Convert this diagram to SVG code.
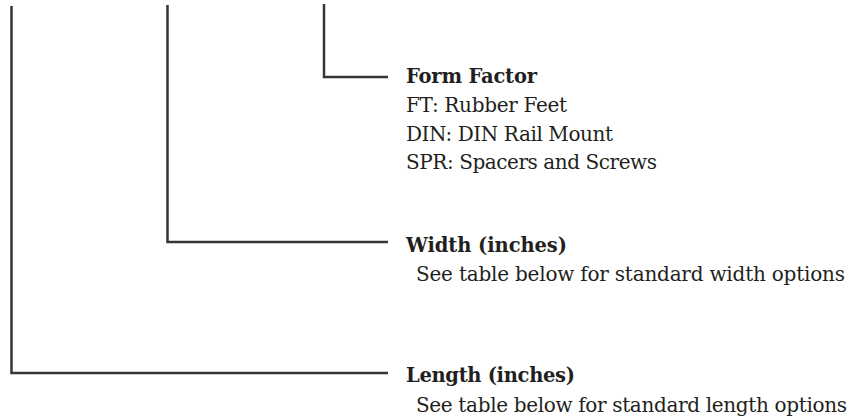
<svg xmlns="http://www.w3.org/2000/svg" width="867" height="417" viewBox="0 0 867 417">
<style>
.ln{fill:none;stroke:#353535;stroke-width:2.5;stroke-linejoin:miter;stroke-linecap:butt}
.t{font-family:"DejaVu Serif","Liberation Serif",serif;font-size:20px;fill:#231f20}
.h{font-weight:bold;font-size:19.5px}
</style>
<rect width="867" height="417" fill="#ffffff"/>
<g id="connectors">
<polyline class="ln" points="11.5,6 11.5,373 388,373"/>
<polyline class="ln" points="167.5,5 167.5,242 388,242"/>
<polyline class="ln" points="324,4 324,77 388,77"/>
</g>
<g id="form-factor">
<text class="t h" x="406" y="83" textLength="131">Form Factor</text>
<text class="t" x="406" y="112" textLength="161">FT: Rubber Feet</text>
<text class="t" x="406" y="141" textLength="207">DIN: DIN Rail Mount</text>
<text class="t" x="406" y="169" textLength="251">SPR: Spacers and Screws</text>
</g>
<g id="width">
<text class="t h" x="406" y="252" textLength="161">Width (inches)</text>
<text class="t" x="416" y="281" textLength="429">See table below for standard width options</text>
</g>
<g id="length">
<text class="t h" x="406" y="382" textLength="169">Length (inches)</text>
<text class="t" x="416" y="412" textLength="431">See table below for standard length options</text>
</g>
</svg>
